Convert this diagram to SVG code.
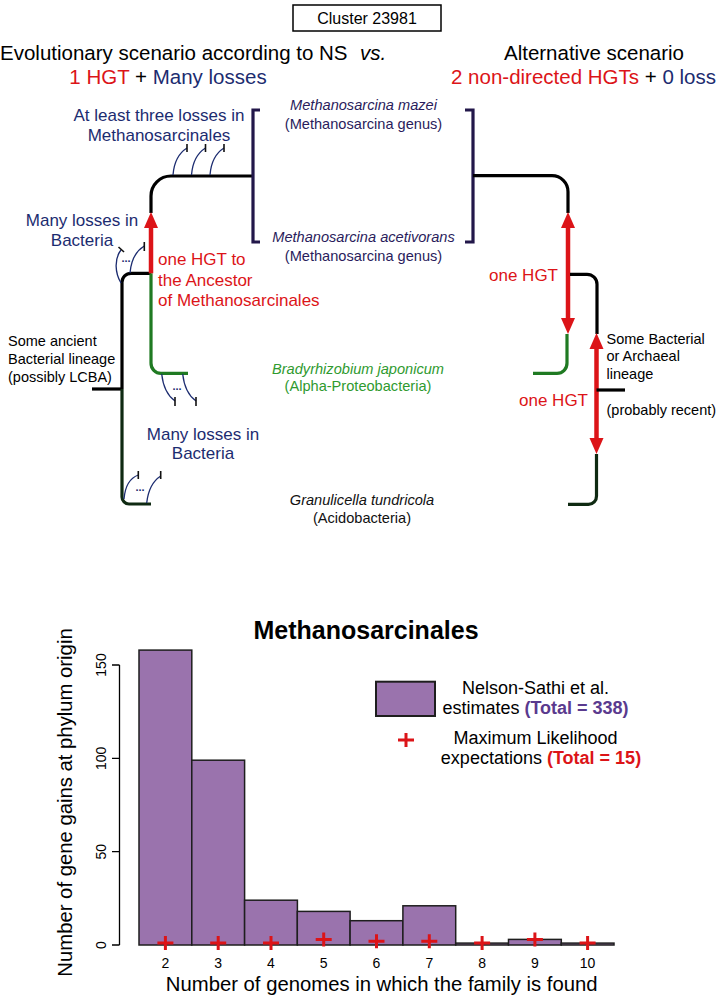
<svg xmlns="http://www.w3.org/2000/svg" width="717" height="996" viewBox="0 0 717 996">
<style>
text{font-family:"Liberation Sans",Arial,sans-serif}
.h{font-size:20.5px}
.red{fill:#dc1418}
.navy{fill:#1c2c70}
.sp{font-size:14.6px;fill:#2a1c5c}
.it{font-style:italic}
.lab{font-size:17px}
.blk{font-size:14.5px;fill:#000}
.br{fill:none;stroke:#000;stroke-width:3.2}
.gr{fill:none;stroke:#1f7a22;stroke-width:3.2}
.dg{fill:none;stroke:#0f2a12;stroke-width:3.2}
.brk{fill:none;stroke:#22174a;stroke-width:3.2}
.loss{fill:none;stroke:#1c2c70;stroke-width:1.3}
.tick{fill:none;stroke:#111;stroke-width:1.6}
.arr{stroke:#dc1418;stroke-width:4.5;fill:none}
.ah{fill:#dc1418}
.bar{fill:#9a73ad;stroke:#1e1e1e;stroke-width:1.5}
.pl{stroke:#dc1418;stroke-width:3;fill:none}
.ax{stroke:#000;stroke-width:1.3;fill:none}
.tl{font-size:14px}
</style>

<g id="header">
<rect x="293" y="5" width="148" height="26" fill="#fff" stroke="#000" stroke-width="1.5"/>
<text x="367" y="24" font-size="16" text-anchor="middle">Cluster 23981</text>
<text class="h" x="0" y="60">Evolutionary scenario according to NS</text>
<text class="h it" x="360" y="60">vs.</text>
<text class="h" x="168" y="84" text-anchor="middle"><tspan class="red">1 HGT</tspan> + <tspan class="navy">Many losses</tspan></text>
<text class="h" x="594" y="60" text-anchor="middle">Alternative scenario</text>
<text class="h" x="583.5" y="84" text-anchor="middle"><tspan class="red">2 non-directed HGTs</tspan> + <tspan class="navy">0 loss</tspan></text>
</g>

<g id="connectors">
<!-- left tree -->
<path class="br" d="M151,213 V196 A20,20 0 0 1 171,176 H253"/>
<path class="br" d="M151,273.3 H131 A9,9 0 0 0 122,282.3 V389"/>
<path class="br" d="M92,389 H122"/>
<path class="dg" d="M122,389 V497 A7,7 0 0 0 129,504 H151"/>
<path class="gr" d="M151,273.3 V363 A10,10 0 0 0 161,373.3 H188"/>
<!-- red arrow left -->
<line class="arr" x1="151" y1="226" x2="151" y2="273.3"/>
<polygon class="ah" points="151,212 144,228 158,228"/>
<!-- brackets -->
<path class="brk" d="M260,110 H253 V242 H260"/>
<path class="brk" d="M465,110 H473 V242 H465"/>
<!-- right tree -->
<path class="br" d="M473,175.7 H552 A16,16 0 0 1 568,191.7 V213"/>
<line class="arr" x1="568" y1="226" x2="568" y2="320"/>
<polygon class="ah" points="568,212 561,228 575,228"/>
<polygon class="ah" points="568,334 561,318 575,318"/>
<path class="br" d="M570,274.3 H587 A10,10 0 0 1 597,284.3 V334"/>
<path class="gr" d="M567,334 V363 A10,10 0 0 1 557,373.3 H533"/>
<line class="arr" x1="596.5" y1="347" x2="596.5" y2="440"/>
<polygon class="ah" points="596.5,333 589.5,349 603.5,349"/>
<polygon class="ah" points="596.5,454 589.5,438 603.5,438"/>
<path class="br" d="M596.5,390 H625"/>
<path class="dg" d="M596.5,454 V496 A8,8 0 0 1 588.5,504.3 H568"/>
<!-- loss marks: top -->
<path class="loss" d="M173,175 C174,162 179,153 187,148"/>
<path class="tick" d="M187,144 V152"/>
<path class="loss" d="M191.5,175 C192.5,162 197.5,153 205.5,148"/>
<path class="tick" d="M205.5,144 V152"/>
<path class="loss" d="M210,175 C211,162 216,153 224,148"/>
<path class="tick" d="M224,144 V152"/>
<!-- loss marks: upper left -->
<path class="loss" d="M130,273 C131,261 136,251 144.3,246"/>
<path class="tick" d="M144.3,242 V251"/>
<path class="loss" d="M121,283 C115,273 114,259 121,250"/>
<path class="tick" d="M118.5,247 L124,252"/>
<!-- loss marks: green -->
<path class="loss" d="M161.7,374 C163,386 168,396 175,401"/>
<path class="tick" d="M175,397 V406"/>
<path class="loss" d="M182.7,374 C184,386 189,396 196,401"/>
<path class="tick" d="M196,397 V406"/>
<!-- loss marks: bottom -->
<path class="loss" d="M124,499 C125,487 130,478 138.3,475"/>
<path class="tick" d="M138.3,471 V479"/>
<path class="loss" d="M146.7,503 C148,491 153,481 160.7,476"/>
<path class="tick" d="M160.7,471 V479"/>
</g>

<g id="labels">
<text class="lab navy" x="159" y="121" text-anchor="middle">At least three losses in</text>
<text class="lab navy" x="159" y="141" text-anchor="middle">Methanosarcinales</text>
<text class="lab navy" x="82" y="226" text-anchor="middle">Many losses in</text>
<text class="lab navy" x="82" y="246" text-anchor="middle">Bacteria</text>
<text class="navy" x="126" y="262" font-size="11" text-anchor="middle" font-weight="bold">...</text>
<text class="navy" x="177" y="390" font-size="11" text-anchor="middle" font-weight="bold">...</text>
<text class="navy" x="140" y="491" font-size="11" text-anchor="middle" font-weight="bold">...</text>
<text class="lab navy" x="203" y="440" text-anchor="middle">Many losses in</text>
<text class="lab navy" x="203" y="459" text-anchor="middle">Bacteria</text>
<text class="lab red" x="158" y="265" font-size="17.5">one HGT to</text>
<text class="lab red" x="158" y="285.5" font-size="17.5">the Ancestor</text>
<text class="lab red" x="158" y="306" font-size="17.5">of Methanosarcinales</text>
<text class="blk" x="8" y="346">Some ancient</text>
<text class="blk" x="8" y="364">Bacterial lineage</text>
<text class="blk" x="8" y="382">(possibly LCBA)</text>
<text class="lab red" x="558" y="281" font-size="17.5" text-anchor="end">one HGT</text>
<text class="lab red" x="588" y="406" font-size="17.5" text-anchor="end">one HGT</text>
<text class="blk" x="606.5" y="344">Some Bacterial</text>
<text class="blk" x="606.5" y="361">or Archaeal</text>
<text class="blk" x="606.5" y="379">lineage</text>
<text class="blk" x="606.5" y="415">(probably recent)</text>
</g>

<g id="species">
<text class="sp it" x="363.5" y="110" text-anchor="middle">Methanosarcina mazei</text>
<text class="sp" x="363.5" y="129" text-anchor="middle">(Methanosarcina genus)</text>
<text class="sp it" x="363.5" y="242" text-anchor="middle">Methanosarcina acetivorans</text>
<text class="sp" x="363.5" y="261" text-anchor="middle">(Methanosarcina genus)</text>
<text class="sp it" x="358" y="374" text-anchor="middle" style="fill:#2f9a2f">Bradyrhizobium japonicum</text>
<text class="sp" x="358" y="391" text-anchor="middle" style="fill:#2f9a2f">(Alpha-Proteobacteria)</text>
<text class="sp it" x="362" y="505" text-anchor="middle" style="fill:#111">Granulicella tundricola</text>
<text class="sp" x="362" y="523" text-anchor="middle" style="fill:#111">(Acidobacteria)</text>
</g>

<g id="chart">
<text x="366" y="639" font-size="25" font-weight="bold" text-anchor="middle">Methanosarcinales</text>
<rect class="bar" x="139" y="650.1" width="52.8" height="294.9"/>
<rect class="bar" x="191.8" y="760.2" width="52.8" height="184.8"/>
<rect class="bar" x="244.6" y="900.2" width="52.8" height="44.8"/>
<rect class="bar" x="297.3" y="911.4" width="52.8" height="33.6"/>
<rect class="bar" x="350.1" y="920.7" width="52.8" height="24.3"/>
<rect class="bar" x="402.9" y="905.8" width="52.8" height="39.2"/>
<rect class="bar" x="455.7" y="943.1" width="52.8" height="1.9"/>
<rect class="bar" x="508.5" y="939.4" width="52.8" height="5.6"/>
<rect class="bar" x="561.2" y="943.1" width="52.8" height="1.9"/>
<path class="pl" d="M157.4,943.1 H173.4 M165.4,936.1 V950.1"/>
<path class="pl" d="M210.2,943.1 H226.2 M218.2,936.1 V950.1"/>
<path class="pl" d="M263,943.1 H279 M271,936.1 V950.1"/>
<path class="pl" d="M315.7,939.4 H331.7 M323.7,932.4 V946.4"/>
<path class="pl" d="M368.5,941.3 H384.5 M376.5,934.3 V948.3"/>
<path class="pl" d="M421.3,941.3 H437.3 M429.3,934.3 V948.3"/>
<path class="pl" d="M474.1,943.1 H490.1 M482.1,936.1 V950.1"/>
<path class="pl" d="M526.9,939.4 H542.9 M534.9,932.4 V946.4"/>
<path class="pl" d="M579.6,943.1 H595.6 M587.6,936.1 V950.1"/>
<path class="ax" d="M119.5,665 V945 M112,665 H119.5 M112,758.3 H119.5 M112,851.7 H119.5 M112,945 H119.5"/>
<g class="tl" text-anchor="middle">
<text transform="translate(106,665) rotate(-90)">150</text>
<text transform="translate(106,758.3) rotate(-90)">100</text>
<text transform="translate(106,851.7) rotate(-90)">50</text>
<text transform="translate(106,945) rotate(-90)">0</text>
<text x="165.4" y="968">2</text>
<text x="218.2" y="968">3</text>
<text x="271" y="968">4</text>
<text x="323.7" y="968">5</text>
<text x="376.5" y="968">6</text>
<text x="429.3" y="968">7</text>
<text x="482.1" y="968">8</text>
<text x="534.9" y="968">9</text>
<text x="587.6" y="968">10</text>
</g>
<text transform="translate(72,802.5) rotate(-90)" font-size="20.3" text-anchor="middle">Number of gene gains at phylum origin</text>
<text x="381.7" y="991" font-size="20.3" text-anchor="middle">Number of genomes in which the family is found</text>
<g id="legend">
<rect x="376" y="681.7" width="59" height="34.3" fill="#9a73ad" stroke="#1e1e1e" stroke-width="2"/>
<path class="pl" d="M398,740 H414 M406,733 V747"/>
<text x="535.5" y="694" font-size="18" text-anchor="middle">Nelson-Sathi et al.</text>
<text x="535.5" y="714" font-size="18" text-anchor="middle">estimates <tspan font-weight="bold" fill="#5a3a8e">(Total = 338)</tspan></text>
<text x="535.5" y="744" font-size="18" text-anchor="middle">Maximum Likelihood</text>
<text x="541" y="764" font-size="18" text-anchor="middle">expectations <tspan font-weight="bold" fill="#dc1418">(Total = 15)</tspan></text>
</g>
</g>
</svg>
